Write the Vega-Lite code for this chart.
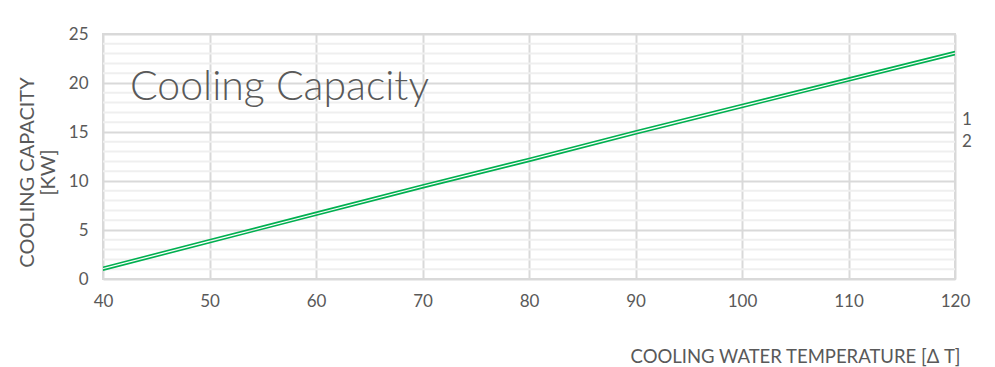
{
  "$schema": "https://vega.github.io/schema/vega-lite/v6.json",
  "autosize": "none",
  "width": 852,
  "height": 245,
  "padding": {"left": 103, "top": 34, "right": 40, "bottom": 88},
  "background": "white",
  "title": {
    "text": "Cooling Capacity",
    "anchor": "start",
    "frame": "group",
    "orient": "top",
    "offset": 0,
    "baseline": "alphabetic",
    "dx": 27,
    "dy": 116,
    "font": "Lato",
    "fontSize": 41,
    "fontWeight": 300,
    "color": "#595959"
  },
  "config": {
    "view": {"stroke": "#d9d9d9", "strokeWidth": 2},
    "font": "Lato"
  },
  "data": {
    "values": [
      {"t": 40, "kw": 1.2, "s": "1"},
      {"t": 50, "kw": 4.0, "s": "1"},
      {"t": 60, "kw": 6.8, "s": "1"},
      {"t": 70, "kw": 9.6, "s": "1"},
      {"t": 80, "kw": 12.3, "s": "1"},
      {"t": 90, "kw": 15.1, "s": "1"},
      {"t": 100, "kw": 17.8, "s": "1"},
      {"t": 110, "kw": 20.5, "s": "1"},
      {"t": 120, "kw": 23.2, "s": "1"},
      {"t": 40, "kw": 0.9, "s": "2"},
      {"t": 50, "kw": 3.7, "s": "2"},
      {"t": 60, "kw": 6.5, "s": "2"},
      {"t": 70, "kw": 9.3, "s": "2"},
      {"t": 80, "kw": 12.0, "s": "2"},
      {"t": 90, "kw": 14.8, "s": "2"},
      {"t": 100, "kw": 17.5, "s": "2"},
      {"t": 110, "kw": 20.2, "s": "2"},
      {"t": 120, "kw": 22.9, "s": "2"}
    ]
  },
  "layer": [
    {
      "mark": {"type": "rule", "color": "#efefef", "strokeWidth": 2},
      "data": {"values": [{"g": 1},{"g": 2},{"g": 3},{"g": 4},{"g": 6},{"g": 7},{"g": 8},{"g": 9},{"g": 11},{"g": 12},{"g": 13},{"g": 14},{"g": 16},{"g": 17},{"g": 18},{"g": 19},{"g": 21},{"g": 22},{"g": 23},{"g": 24}]},
      "encoding": {"y": {"field": "g", "type": "quantitative"}}
    },
    {
      "mark": {"type": "line", "strokeWidth": 1.6, "clip": true},
      "encoding": {
        "x": {
          "field": "t", "type": "quantitative",
          "scale": {"domain": [40, 120], "nice": false, "zero": false},
          "axis": {
            "values": [40, 50, 60, 70, 80, 90, 100, 110, 120],
            "grid": true, "gridColor": "#d9d9d9", "gridWidth": 2,
            "domain": false, "ticks": false, "labelFlush": false,
            "labelFont": "Lato",
            "labelFontSize": 17, "labelColor": "#595959", "labelPadding": 14,
            "title": "COOLING WATER TEMPERATURE [Δ T]",
            "titleFont": "Lato",
            "titleFontSize": 18.5, "titleFontWeight": "normal", "titleColor": "#595959",
            "titleAnchor": "end", "titleAlign": "right", "titleBaseline": "alphabetic",
            "titleX": 857, "titleY": 83
          }
        },
        "y": {
          "field": "kw", "type": "quantitative",
          "scale": {"domain": [0, 25], "nice": false},
          "axis": {
            "values": [0, 5, 10, 15, 20, 25],
            "grid": true, "gridColor": "#d9d9d9", "gridWidth": 2,
            "domain": false, "ticks": false,
            "labelFont": "Lato",
            "labelFontSize": 17, "labelColor": "#595959", "labelPadding": 15,
            "title": ["COOLING CAPACITY", "[KW]"],
            "titleFont": "Lato",
            "titleFontSize": 20, "titleFontWeight": "normal", "titleColor": "#595959",
            "titleLineHeight": 21,
            "titleX": -86, "titleY": 138, "titleAngle": -90, "titleAlign": "center", "titleBaseline": "top"
          }
        },
        "color": {
          "field": "s", "type": "nominal",
          "scale": {"range": ["#00b050", "#00b050"]},
          "legend": {
            "title": null, "orient": "none", "legendX": 842, "legendY": 77,
            "symbolOpacity": 0, "symbolSize": 0, "symbolStrokeWidth": 0,
            "labelFont": "Lato",
            "labelFontSize": 17, "labelColor": "#595959", "labelOffset": 0,
            "rowPadding": 4
          }
        }
      }
    }
  ]
}
